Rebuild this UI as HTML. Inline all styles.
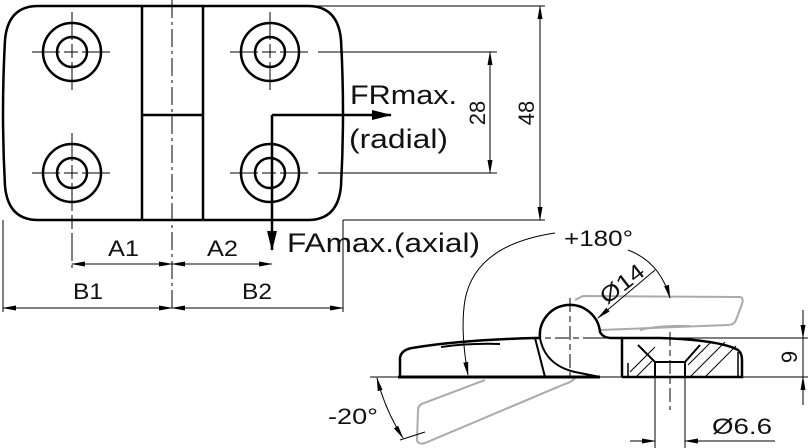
<!DOCTYPE html>
<html><head><meta charset="utf-8"><style>
html,body{margin:0;padding:0;background:#fff}
svg{display:block}
text{font-family:"Liberation Sans",sans-serif;fill:#111}
</style></head><body>
<svg width="808" height="448" viewBox="0 0 808 448" xmlns="http://www.w3.org/2000/svg">
<defs>
<marker id="a" markerWidth="14" markerHeight="8" refX="13" refY="4" orient="auto" markerUnits="userSpaceOnUse"><path d="M0,1.5 L14,4 L0,6.5z" fill="#000"/></marker>
<marker id="b" markerWidth="14" markerHeight="8" refX="1" refY="4" orient="auto" markerUnits="userSpaceOnUse"><path d="M14,1.5 L0,4 L14,6.5z" fill="#000"/></marker>
<marker id="big" markerWidth="20" markerHeight="12" refX="19" refY="6" orient="auto" markerUnits="userSpaceOnUse"><path d="M0,1 L20,6 L0,11z" fill="#000"/></marker>
</defs>
<g fill="none" stroke="#000">
<!-- plate -->
<path d="M38,6 L308,6 Q338,6 341,40 Q345,113 341,186 Q338,220 308,220 L38,220 Q8,220 5,186 Q1,113 5,40 Q8,6 38,6Z" stroke-width="2.5"/>
<line x1="142" y1="6" x2="142" y2="220" stroke-width="2.5"/>
<line x1="203" y1="6" x2="203" y2="220" stroke-width="2.5"/>
<line x1="142" y1="115" x2="203" y2="115" stroke-width="2.5"/>
<line x1="172" y1="0" x2="172" y2="312" stroke-width="1" stroke-dasharray="18,4,3,4"/>
<!-- holes -->
<g stroke-width="2.5">
<circle cx="72" cy="52" r="29"/><circle cx="72" cy="52" r="15"/>
<circle cx="72" cy="173" r="29"/><circle cx="72" cy="173" r="15"/>
<circle cx="270" cy="52" r="29"/><circle cx="270" cy="52" r="15"/>
<circle cx="270" cy="173" r="29"/><circle cx="270" cy="173" r="15"/>
</g>
<g stroke-width="1" stroke-dasharray="28,4,14,4">
<line x1="32" y1="52" x2="112" y2="52"/><line x1="72" y1="12" x2="72" y2="92"/>
<line x1="32" y1="173" x2="112" y2="173"/><line x1="72" y1="133" x2="72" y2="268"/>
<line x1="230" y1="52" x2="310" y2="52"/><line x1="270" y1="12" x2="270" y2="92"/>
<line x1="230" y1="173" x2="310" y2="173"/>
</g>
<!-- right extension lines -->
<g stroke-width="1">
<line x1="300" y1="6" x2="545" y2="6"/>
<line x1="318" y1="52" x2="497" y2="52"/>
<line x1="318" y1="173" x2="497" y2="173"/>
<line x1="343" y1="220" x2="545" y2="220"/>
<line x1="490" y1="52" x2="490" y2="173" marker-start="url(#b)" marker-end="url(#a)"/>
<line x1="540" y1="6" x2="540" y2="220" marker-start="url(#b)" marker-end="url(#a)"/>
<line x1="72" y1="264" x2="172" y2="264" marker-start="url(#b)" marker-end="url(#a)"/>
<line x1="172" y1="264" x2="272" y2="264" marker-start="url(#b)" marker-end="url(#a)"/>
<line x1="3" y1="220" x2="3" y2="312"/>
<line x1="343" y1="220" x2="343" y2="312"/>
<line x1="3" y1="308" x2="172" y2="308" marker-start="url(#b)" marker-end="url(#a)"/>
<line x1="172" y1="308" x2="343" y2="308" marker-start="url(#b)" marker-end="url(#a)"/>
</g>
<!-- force arrows -->
<line x1="272" y1="115" x2="391" y2="115" stroke-width="2.5" marker-end="url(#big)"/>
<line x1="272" y1="115" x2="272" y2="250" stroke-width="2.5" marker-end="url(#big)"/>

<!-- side view gray rotated parts -->
<g stroke="#aaa" stroke-width="2">
<path d="M575,300 L583,296 L740,297 Q744,298 742,304 L736,320 Q734,325 728,325 L600,330"/>
<path d="M640,330 Q660,325 690,326"/>
<path d="M575,378 Q572,382 565,384 L425,443 Q418,445 417,440 L418,410 Q418,405 424,403 L485,380"/>
</g>
<line x1="370" y1="377" x2="808" y2="377" stroke-width="1"/>
<line x1="596" y1="338" x2="808" y2="338" stroke-width="1"/>
<!-- left plate -->
<path d="M400,377 L400,358 Q401,350 412,348 Q460,340 535,338 L541,338" stroke-width="2.5"/>
<line x1="398" y1="377" x2="600" y2="377" stroke-width="3"/>
<line x1="535" y1="338" x2="545" y2="377" stroke-width="2"/>
<path d="M441,347 Q470,343 500,344" stroke-width="2"/>
<!-- knuckle -->
<path d="M540,338 A30,30 0 1 1 600,332 Q603,338 612,338 L622,338" stroke-width="2.5"/>
<path d="M540,338 Q545,365 575,372 Q590,375 600,377" stroke-width="2"/>
<g stroke-width="1" stroke-dasharray="14,4,6,4">
<line x1="527" y1="338" x2="612" y2="338"/>
<line x1="570" y1="298" x2="570" y2="380"/>
<line x1="670" y1="332" x2="670" y2="410"/>
</g>
<!-- right plate -->
<path d="M622,377 L622,338 L660,338 Q720,340 738,350 Q742,353 742,360 L742,377 L622,377" stroke-width="2.5"/>
<line x1="628" y1="363" x2="628" y2="377" stroke-width="1.5"/>
<line x1="738" y1="352" x2="738" y2="377" stroke-width="1.5"/>
<path d="M638,345 L655,362 L655,377 M700,345 L685,362 L685,377 M655,362 L685,362" stroke-width="2"/>
<g stroke-width="1">
<line x1="630" y1="372" x2="655" y2="347"/>
<line x1="636" y1="377" x2="652" y2="361"/>
<line x1="690" y1="377" x2="725" y2="342"/>
<line x1="705" y1="377" x2="736" y2="346"/>
<line x1="688" y1="365" x2="710" y2="343"/>
</g>
<line x1="803" y1="310" x2="803" y2="338" stroke-width="1" marker-end="url(#a)"/>
<line x1="803" y1="405" x2="803" y2="377" stroke-width="1" marker-end="url(#a)"/>
<line x1="803" y1="310" x2="803" y2="405" stroke-width="1"/>
<line x1="655" y1="377" x2="655" y2="448" stroke-width="1"/>
<line x1="685" y1="377" x2="685" y2="448" stroke-width="1"/>
<line x1="630" y1="441" x2="655" y2="441" stroke-width="1" marker-end="url(#a)"/>
<line x1="710" y1="441" x2="685" y2="441" stroke-width="1" marker-end="url(#a)"/>
<line x1="685" y1="441" x2="775" y2="441" stroke-width="1"/>
<path d="M555,233 Q475,245 465,300 Q460,330 468,375" stroke-width="1" marker-end="url(#a)"/>
<path d="M628,250 Q660,262 670,298" stroke-width="1" marker-end="url(#a)"/>
<line x1="655" y1="270" x2="598" y2="318" stroke-width="1" marker-end="url(#a)"/>
<path d="M377,378 Q385,410 403,438" stroke-width="1" marker-start="url(#b)" marker-end="url(#a)"/>
<line x1="400" y1="440" x2="425" y2="432" stroke-width="1"/>
</g>
<!-- text -->
<text x="350" y="104" font-size="27" textLength="107" lengthAdjust="spacingAndGlyphs">FRmax.</text>
<text x="349" y="148" font-size="27" textLength="99" lengthAdjust="spacingAndGlyphs">(radial)</text>
<text x="287" y="252" font-size="27" textLength="193" lengthAdjust="spacingAndGlyphs">FAmax.(axial)</text>
<text x="108" y="256" font-size="22" textLength="31" lengthAdjust="spacingAndGlyphs">A1</text>
<text x="207" y="256" font-size="22" textLength="31" lengthAdjust="spacingAndGlyphs">A2</text>
<text x="73" y="299" font-size="22" textLength="30" lengthAdjust="spacingAndGlyphs">B1</text>
<text x="242" y="299" font-size="22" textLength="30" lengthAdjust="spacingAndGlyphs">B2</text>
<text transform="translate(485,113) rotate(-90)" font-size="22" text-anchor="middle">28</text>
<text transform="translate(534,113) rotate(-90)" font-size="22" text-anchor="middle">48</text>
<text x="564" y="246" font-size="22" textLength="69" lengthAdjust="spacingAndGlyphs">+180°</text>
<text transform="translate(607,305) rotate(-38)" font-size="22" textLength="50" lengthAdjust="spacingAndGlyphs">Ø14</text>
<text x="328" y="424" font-size="22" textLength="50" lengthAdjust="spacingAndGlyphs">-20°</text>
<text transform="translate(797,357) rotate(-90)" font-size="22" text-anchor="middle">9</text>
<text x="712" y="434" font-size="22" textLength="60" lengthAdjust="spacingAndGlyphs">Ø6.6</text>
</svg>
</body></html>
